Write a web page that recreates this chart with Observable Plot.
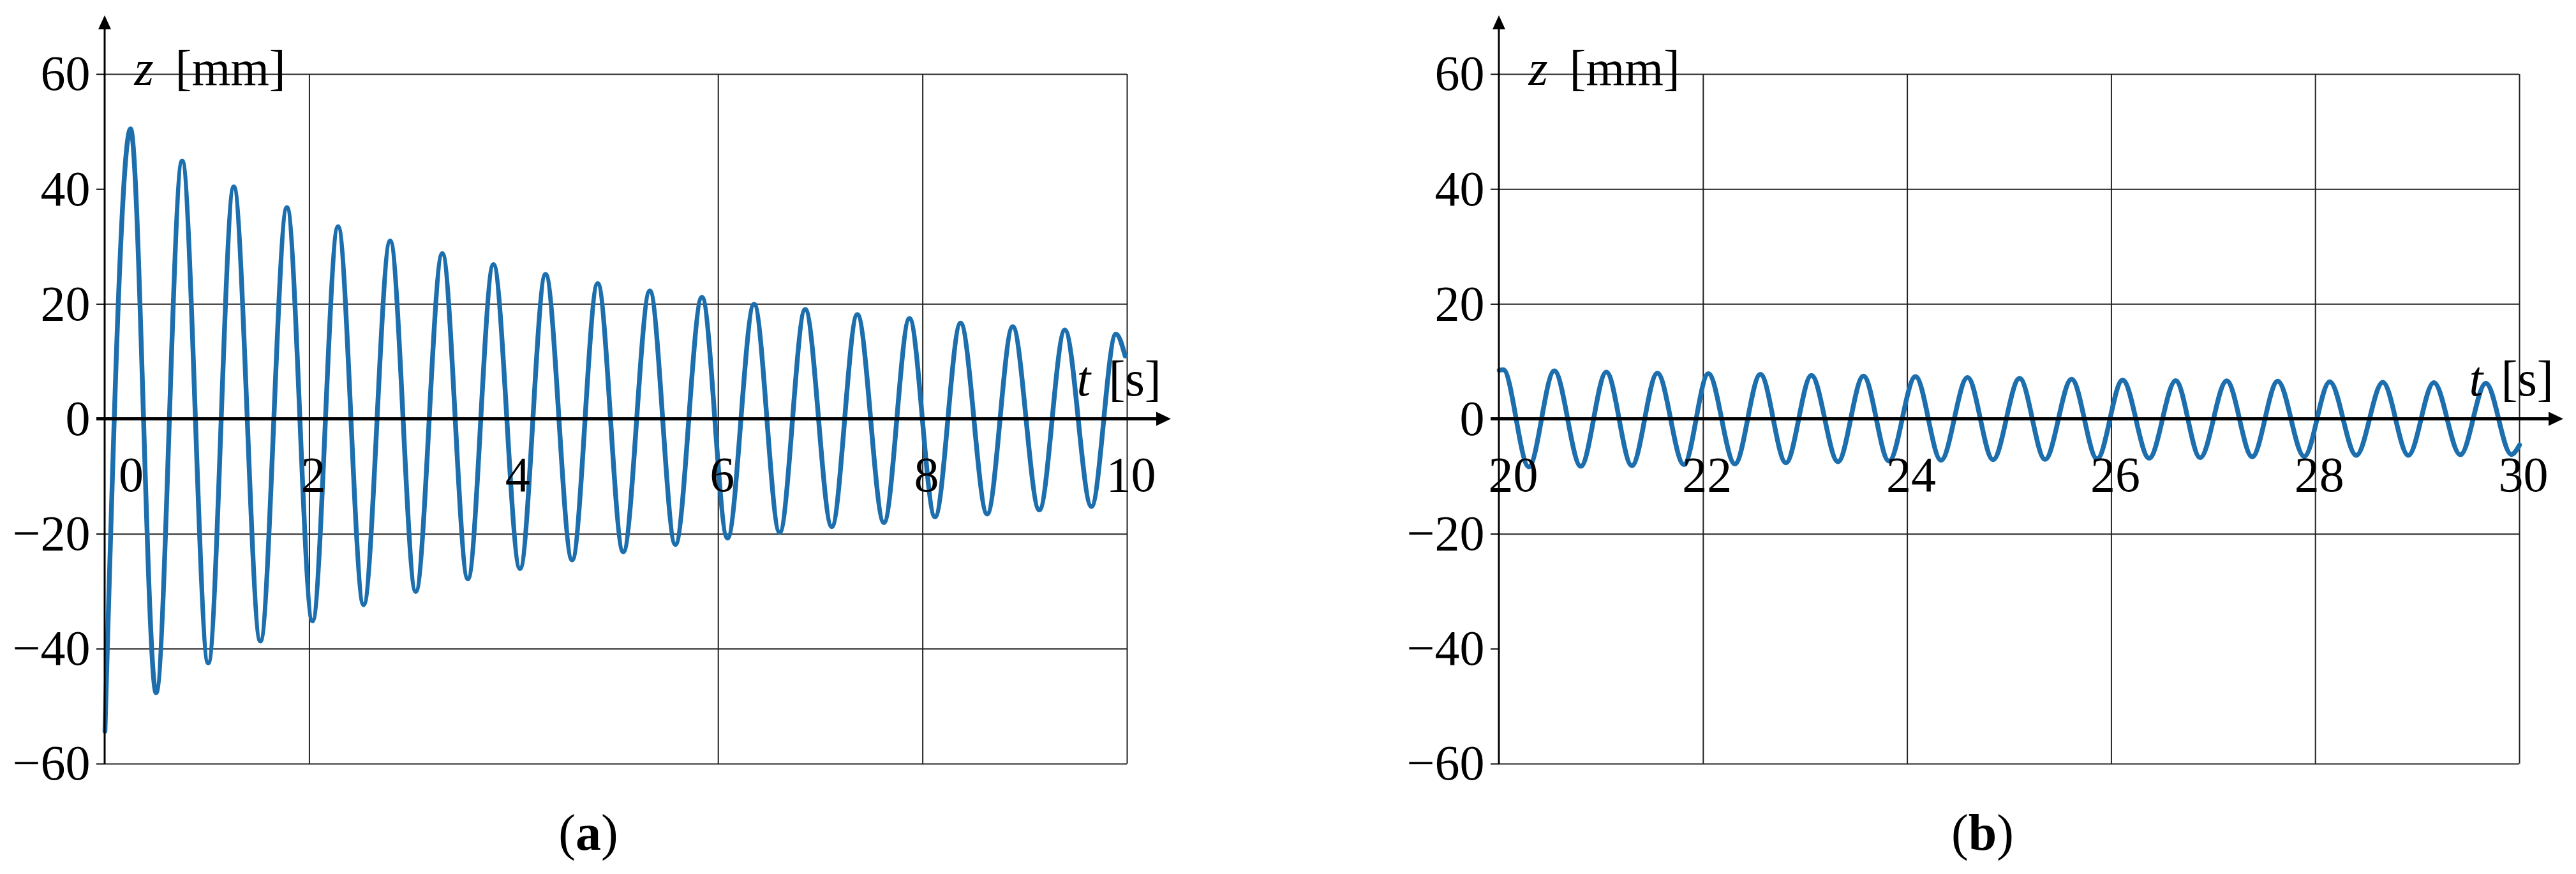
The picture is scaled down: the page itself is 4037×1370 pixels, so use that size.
<!DOCTYPE html>
<html>
<head>
<meta charset="utf-8">
<script src="https://cdn.jsdelivr.net/npm/d3@7"></script>
<script src="https://cdn.jsdelivr.net/npm/@observablehq/plot@0.6"></script>
<style>
  html, body { margin: 0; padding: 0; background: #ffffff; }
  #page { position: relative; width: 4037px; height: 1370px; overflow: hidden; background: #ffffff;
          font-family: "Liberation Serif", "Times New Roman", serif; }
  .panel { position: absolute; top: 0; }
  .cap { position: absolute; top: 1265px; width: 200px; text-align: center; font-size: 80px;
         line-height: 80px; color: #000; font-family: "Liberation Serif", "Times New Roman", serif; }
</style>
</head>
<body>
<div id="page"></div>
<script>
// ---------- data (extrema of the response) ----------
// panel (a): 0 – 10 s
const aTime = [0.00, 0.25, 0.50, 0.755, 1.01, 1.26, 1.52, 1.78, 2.03, 2.28, 2.53, 2.79, 3.04, 3.30,
               3.55, 3.80, 4.06, 4.31, 4.57, 4.82, 5.07, 5.33, 5.58, 5.84, 6.09, 6.35, 6.60, 6.85,
               7.11, 7.36, 7.62, 7.87, 8.12, 8.37, 8.63, 8.88, 9.14, 9.39, 9.65, 9.89, 9.98];
const aZ    = [-54.3, 50.5, -47.6, 44.9, -42.4, 40.4, -38.6, 36.8, -35.1, 33.5, -32.3, 31.0, -30.0, 28.8,
               -27.8, 26.9, -26.0, 25.2, -24.5, 23.6, -23.1, 22.3, -21.8, 21.2, -20.7, 20.0, -19.7, 19.1,
               -18.7, 18.2, -18.0, 17.5, -17.0, 16.7, -16.5, 16.1, -15.8, 15.5, -15.2, 14.8, 11.0];
// panel (b): 20 – 30 s
const bTime = [20.00, 20.04, 20.29, 20.54, 20.80, 21.05, 21.30, 21.55, 21.81, 22.05, 22.31, 22.56, 22.81,
               23.06, 23.32, 23.57, 23.82, 24.08, 24.33, 24.59, 24.84, 25.10, 25.35, 25.61, 25.86, 26.11,
               26.37, 26.63, 26.87, 27.13, 27.38, 27.63, 27.89, 28.14, 28.40, 28.66, 28.91, 29.16, 29.42,
               29.67, 29.92, 30.00];
const bZ    = [8.5, 8.6, -8.3, 8.4, -8.2, 8.2, -8.1, 8.0, -7.9, 7.9, -7.8, 7.8, -7.6,
               7.6, -7.4, 7.5, -7.3, 7.4, -7.15, 7.25, -7.05, 7.1, -7.0, 6.95, -6.9, 6.8,
               -6.8, 6.7, -6.7, 6.65, -6.55, 6.6, -6.5, 6.5, -6.3, 6.4, -6.3, 6.35, -6.2,
               6.25, -6.15, -4.5];

// ---------- ticks / labels ----------
const zTicks  = [-60, -40, -20, 0, 20, 40, 60];
const aTTicks = [0, 2, 4, 6, 8, 10];
const bTTicks = [20, 22, 24, 26, 28, 30];
const aGridT  = [2, 6, 8, 10];
const aGridZ  = [60, 20, -20, -40, -60];
const bGridT  = [22, 24, 26, 28, 30];
const bGridZ  = [60, 40, 20, -20, -60];
const tLabel  = ["t", "[s]"];
const zLabel  = ["z", "[mm]"];
const captions = ["a", "b"];

// ---------- drawing ----------
const FONT = "Liberation Serif, Times New Roman, serif";
const FS = 78;
const CURVE = "#1c6ead";
const fmt = d => (d < 0 ? "\u2212" + (-d) : String(d));

function panel({time, z, tDomain, tTicks, gridT, gridZ, left, width, frameW, firstDx, caption}) {
  const data = time.map((t, i) => ({t, z: z[i]}));
  const mL = 164, mT = 116, mB = 53, H = 1250;
  const wrap = document.createElement("div");
  wrap.className = "panel";
  wrap.style.left = left + "px";
  document.getElementById("page").appendChild(wrap);

  const plot = Plot.plot({
    width, height: H,
    marginLeft: mL, marginRight: width - mL - frameW, marginTop: mT, marginBottom: mB,
    style: `font-family:${FONT};font-size:${FS}px;overflow:visible;background:white;color:black;`,
    x: {domain: tDomain, axis: null, label: null},
    y: {domain: [-60, 60], axis: null, label: null},
    marks: [
      Plot.gridX(gridT, {stroke: "#222", strokeOpacity: 1, strokeWidth: 2}),
      Plot.gridY(gridZ, {stroke: "#222", strokeOpacity: 1, strokeWidth: 2}),
      Plot.axisY(zTicks, {tickSize: 13, tickPadding: 10, tickFormat: fmt, label: null,
                          stroke: "black", strokeWidth: 2, fill: "black", fontSize: FS}),
      Plot.line(data, {x: "t", y: "z", curve: "monotone-x", stroke: CURVE, strokeWidth: 7.5,
                       strokeLinejoin: "round", strokeLinecap: "round"}),
      Plot.text(tTicks.slice(0, 1), {x: d => d, y: () => 0, dx: firstDx, dy: 88, text: d => String(d),
                       textAnchor: "middle", lineAnchor: "middle", fontSize: FS, fill: "black", ariaLabel: "tick-lbl"}),
      Plot.text(tTicks.slice(1), {x: d => d, y: () => 0, dx: 6, dy: 88, text: d => String(d),
                       textAnchor: "middle", lineAnchor: "middle", fontSize: FS, fill: "black", ariaLabel: "tick-lbl"}),
      Plot.text([tLabel[0]], {y: () => 0, frameAnchor: "right", textAnchor: "start", lineAnchor: "bottom",
                       dx: -79, dy: -37, fontSize: FS, fontStyle: "italic", fill: "black", ariaLabel: "t-lbl"}),
      Plot.text([tLabel[1]], {y: () => 0, frameAnchor: "right", textAnchor: "start", lineAnchor: "bottom",
                       dx: -29, dy: -37, fontSize: FS, fill: "black", ariaLabel: "t-lbl"}),
      Plot.text([zLabel[0]], {frameAnchor: "top-left", textAnchor: "start", lineAnchor: "bottom",
                       dx: 46, dy: 16, fontSize: FS, fontStyle: "italic", fill: "black", ariaLabel: "z-lbl"}),
      Plot.text([zLabel[1]], {frameAnchor: "top-left", textAnchor: "start", lineAnchor: "bottom",
                       dx: 110, dy: 16, fontSize: FS, fill: "black", ariaLabel: "z-lbl"})
    ]
  });
  wrap.appendChild(plot);

  const svgEl = plot.tagName.toLowerCase() === "svg" ? plot : plot.querySelector("svg");
  const svg = d3.select(svgEl);
  const sr = svgEl.getBoundingClientRect();
  const rel = el => {
    const r = el.getBoundingClientRect();
    return {x: r.left - sr.left, y: r.top - sr.top, w: r.width, h: r.height};
  };
  const NS = "http://www.w3.org/2000/svg";
  function bgFor(label, padX, padY, opacity, union) {
    const groups = svgEl.querySelectorAll(`g[aria-label="${label}"]`);
    if (!groups.length) return;
    const boxes = [];
    groups.forEach(g => g.querySelectorAll("text").forEach(t => boxes.push(rel(t))));
    const bgG = document.createElementNS(NS, "g");
    groups[0].parentNode.insertBefore(bgG, groups[0]);
    const list = union ? [{
      x: d3.min(boxes, b => b.x), y: d3.min(boxes, b => b.y),
      w: d3.max(boxes, b => b.x + b.w) - d3.min(boxes, b => b.x),
      h: d3.max(boxes, b => b.y + b.h) - d3.min(boxes, b => b.y)
    }] : boxes;
    list.forEach(b => {
      const r = document.createElementNS(NS, "rect");
      r.setAttribute("x", b.x - padX); r.setAttribute("y", b.y - padY);
      r.setAttribute("width", b.w + 2 * padX); r.setAttribute("height", b.h + 2 * padY);
      r.setAttribute("fill", "white"); r.setAttribute("fill-opacity", opacity);
      bgG.appendChild(r);
    });
  }
  bgFor("tick-lbl", 3, 8, 0.6, false);
  bgFor("t-lbl", 6, 2, 0.6, true);
  bgFor("z-lbl", 6, -6, 1, true);

  // axis lines with arrow heads, positioned through Plot's scales
  const sx = plot.scale("x"), sy = plot.scale("y");
  const x0 = sx.apply(tDomain[0]), x1 = sx.apply(tDomain[1]);
  const y0 = sy.apply(0), yTop = sy.apply(60), yBot = sy.apply(-60);
  const ax = svg.append("g");
  ax.append("line").attr("x1", x0 - 13).attr("x2", x1 + 50).attr("y1", y0).attr("y2", y0)
    .attr("stroke", "black").attr("stroke-width", 5);
  ax.append("path").attr("d", `M${x1 + 69},${y0}L${x1 + 46},${y0 - 11}L${x1 + 46},${y0 + 11}Z`).attr("fill", "black");
  ax.append("line").attr("x1", x0).attr("x2", x0).attr("y1", yBot + 1).attr("y2", yTop - 75)
    .attr("stroke", "black").attr("stroke-width", 3);
  ax.append("path").attr("d", `M${x0},${yTop - 92}L${x0 - 10},${yTop - 70}L${x0 + 10},${yTop - 70}Z`).attr("fill", "black");

  const cap = document.createElement("div");
  cap.className = "cap";
  cap.style.left = (left + 922 - 100) + "px";
  cap.innerHTML = "(<b>" + caption + "</b>)";
  document.getElementById("page").appendChild(cap);
}

panel({time: aTime, z: aZ, tDomain: [0, 10], tTicks: aTTicks, gridT: aGridT, gridZ: aGridZ,
       left: 0, width: 2100, frameW: 1602, firstDx: 41, caption: captions[0]});
panel({time: bTime, z: bZ, tDomain: [20, 30], tTicks: bTTicks, gridT: bGridT, gridZ: bGridZ,
       left: 2185, width: 1852, frameW: 1599, firstDx: 22, caption: captions[1]});
</script>
</body>
</html>
